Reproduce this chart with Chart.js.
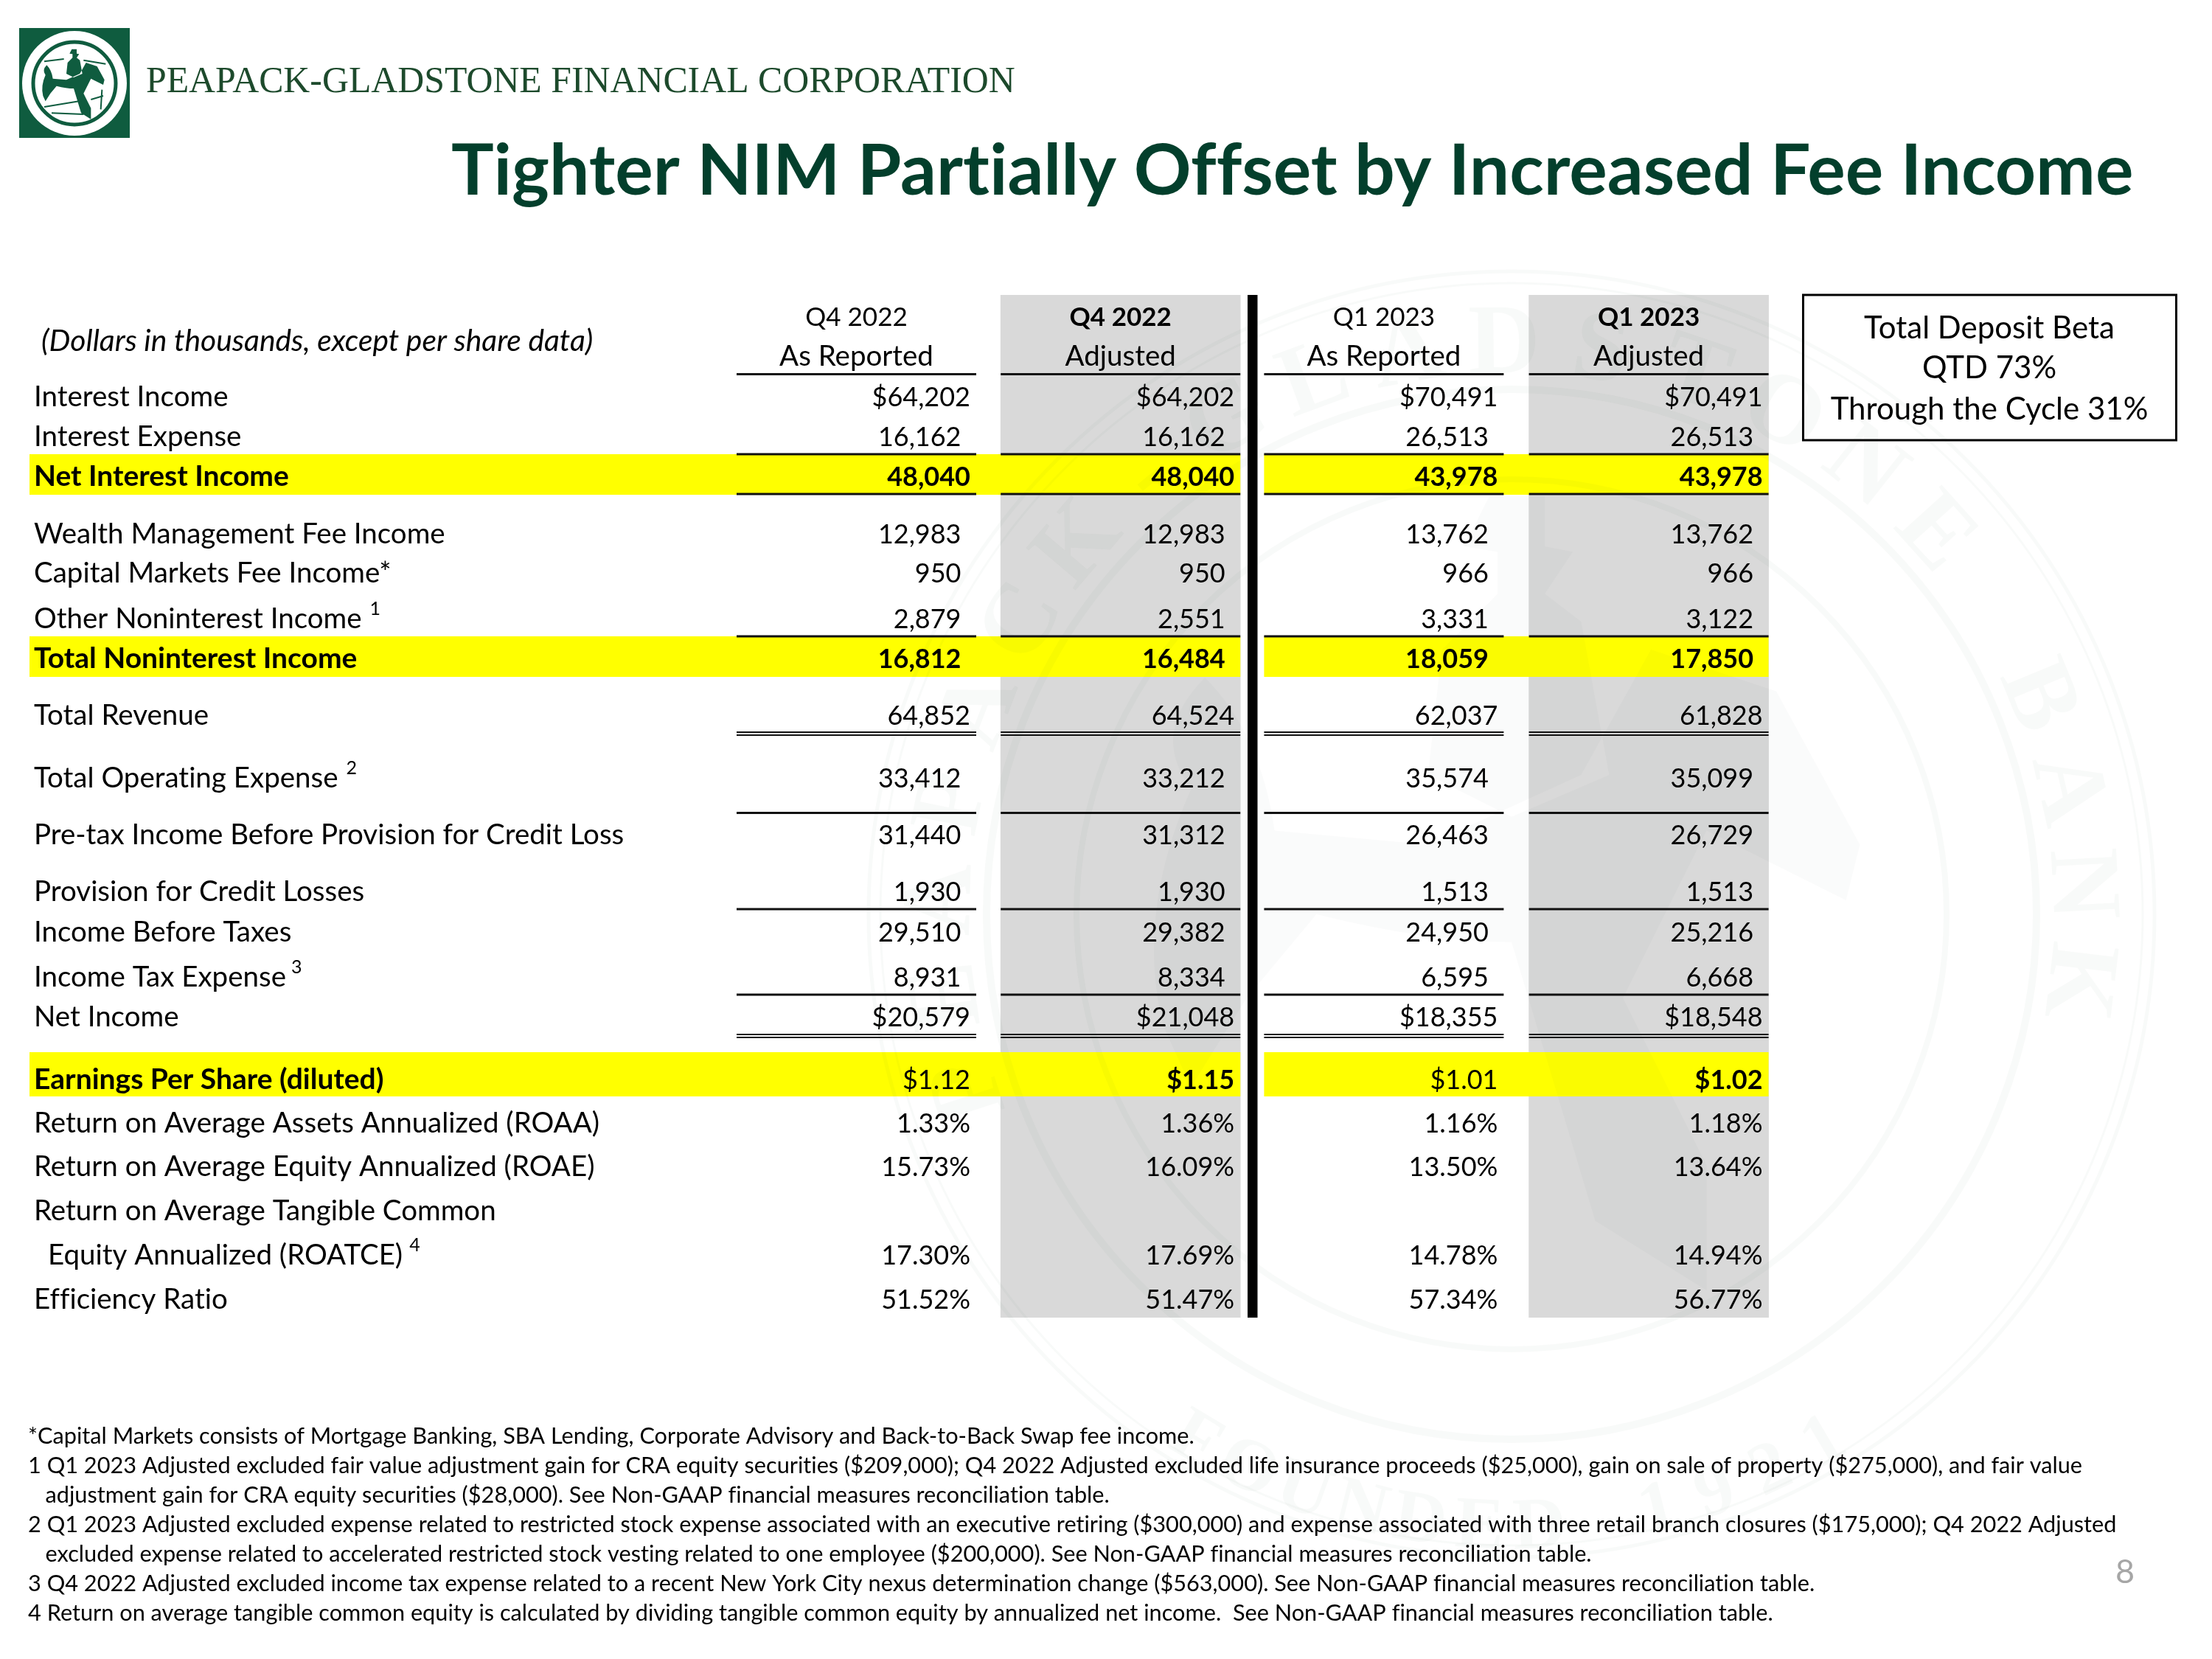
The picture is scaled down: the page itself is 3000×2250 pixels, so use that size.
<!DOCTYPE html>
<html lang="en">
<head>
  <meta charset="UTF-8" />
  <title>Tighter NIM Partially Offset by Increased Fee Income</title>
  <script src="https://cdn.jsdelivr.net/npm/chart.js"></script>
  <style>
    body { margin: 0; background: #fff; }
    canvas { display: block; }
  </style>
</head>
<body>
  <canvas id="slide" width="3000" height="2250"></canvas>

  <script>
    const columns = ['Q4 2022', 'Q4 2022', 'Q1 2023', 'Q1 2023'];
    const columnSubs = ['As Reported', 'Adjusted', 'As Reported', 'Adjusted'];

    const rowLabels = [
      'Interest Income', 'Interest Expense', 'Net Interest Income',
      'Wealth Management Fee Income', 'Capital Markets Fee Income*', 'Other Noninterest Income',
      'Total Noninterest Income', 'Total Revenue', 'Total Operating Expense',
      'Pre-tax Income Before Provision for Credit Loss', 'Provision for Credit Losses',
      'Income Before Taxes', 'Income Tax Expense', 'Net Income', 'Earnings Per Share (diluted)',
      'Return on Average Assets Annualized (ROAA)', 'Return on Average Equity Annualized (ROAE)',
      'Return on Average Tangible Common', 'Equity Annualized (ROATCE)', 'Efficiency Ratio'
    ];

    const q4Reported = ['$64,202', '16,162', '48,040', '12,983', '950', '2,879', '16,812', '64,852', '33,412', '31,440',
      '1,930', '29,510', '8,931', '$20,579', '$1.12', '1.33%', '15.73%', '', '17.30%', '51.52%'];
    const q4Adjusted = ['$64,202', '16,162', '48,040', '12,983', '950', '2,551', '16,484', '64,524', '33,212', '31,312',
      '1,930', '29,382', '8,334', '$21,048', '$1.15', '1.36%', '16.09%', '', '17.69%', '51.47%'];
    const q1Reported = ['$70,491', '26,513', '43,978', '13,762', '966', '3,331', '18,059', '62,037', '35,574', '26,463',
      '1,513', '24,950', '6,595', '$18,355', '$1.01', '1.16%', '13.50%', '', '14.78%', '57.34%'];
    const q1Adjusted = ['$70,491', '26,513', '43,978', '13,762', '966', '3,122', '17,850', '61,828', '35,099', '26,729',
      '1,513', '25,216', '6,668', '$18,548', '$1.02', '1.18%', '13.64%', '', '14.94%', '56.77%'];

    const footnotes = [
      '*Capital Markets consists of Mortgage Banking, SBA Lending, Corporate Advisory and Back-to-Back Swap fee income.',
      '1 Q1 2023 Adjusted excluded fair value adjustment gain for CRA equity securities ($209,000); Q4 2022 Adjusted excluded life insurance proceeds ($25,000), gain on sale of property ($275,000), and fair value',
      '   adjustment gain for CRA equity securities ($28,000). See Non-GAAP financial measures reconciliation table.',
      '2 Q1 2023 Adjusted excluded expense related to restricted stock expense associated with an executive retiring ($300,000) and expense associated with three retail branch closures ($175,000); Q4 2022 Adjusted',
      '   excluded expense related to accelerated restricted stock vesting related to one employee ($200,000). See Non-GAAP financial measures reconciliation table.',
      '3 Q4 2022 Adjusted excluded income tax expense related to a recent New York City nexus determination change ($563,000). See Non-GAAP financial measures reconciliation table.',
      '4 Return on average tangible common equity is calculated by dividing tangible common equity by annualized net income.  See Non-GAAP financial measures reconciliation table.'
    ];
    const betaBox = ['Total Deposit Beta', 'QTD 73%', 'Through the Cycle 31%'];

    // layout, in y-scale units (px below the top of the table)
    const tableHeight = 1387;
    const rowBaselines = [151, 205, 259, 337, 390, 451.5, 506, 583, 668, 745, 822, 876.5, 938, 992, 1076.5, 1136, 1195, 1255, 1315, 1375];
    const headerBaselines = [42, 96];
    const singleRules = [107.5, 216, 270, 463, 702.5, 833, 949];
    const doubleRules = [593.5, 1003.5];
    const yellowBands = [[216, 271], [463, 518], [1027, 1087]];
    const boldRows = [2, 6];
    const indentedRows = [1, 3, 4, 5, 6, 8, 9, 10, 11, 12];
    const superscripts = { 5: ['1', 11], 8: ['2', 11], 12: ['3', 7], 18: ['4', 9] };

    const GREEN = '#033f2c';
    const LOGO_GREEN = '#0f5c3f';
    const colWidth = 325;
    const colNudge = [0, 0, -1, 0];
    const valueColumns = [q4Reported, q4Adjusted, q1Reported, q1Adjusted];

    function put(ctx, str, x, y, font, align, color) {
      ctx.font = font;
      ctx.textAlign = align || 'left';
      ctx.textBaseline = 'alphabetic';
      ctx.fillStyle = color || '#000';
      ctx.fillText(str, x, y);
    }

    function horsePath() {
      const p = new Path2D();
      p.addPath(new Path2D('M190 205 Q170 225 185 245 Q165 290 175 330 L185 352 L205 320 L230 290 Q270 300 300 300 L330 400 L370 425 L370 380 L340 320 L370 260 L420 285 L425 265 L395 210 L350 195 L325 240 L270 265 L215 260 Q210 225 190 205 Z'));
      p.addPath(new Path2D('M292 140 L312 140 L312 158 L322 160 L312 175 L325 185 L335 240 L300 255 L270 240 L275 195 L295 175 L295 160 L283 158 Z'));
      return p;
    }

    function drawLogo(ctx) {
      ctx.fillStyle = LOGO_GREEN;
      ctx.fillRect(26, 38, 150, 149);
      ctx.fillStyle = '#fff';
      ctx.beginPath(); ctx.arc(101, 113, 71, 0, Math.PI * 2); ctx.fill();
      ctx.strokeStyle = LOGO_GREEN;
      ctx.lineWidth = 5;
      ctx.beginPath(); ctx.arc(101, 113, 56, 0, Math.PI * 2); ctx.stroke();
      ctx.save();
      ctx.translate(0, 20);
      ctx.scale(1 / 3, 1 / 3);
      ctx.fillStyle = LOGO_GREEN;
      ctx.fill(horsePath());
      ctx.lineWidth = 6;
      ctx.beginPath();
      ctx.moveTo(180, 375); ctx.lineTo(330, 350); ctx.moveTo(210, 400); ctx.lineTo(340, 405);
      ctx.moveTo(370, 345); ctx.lineTo(420, 330); ctx.moveTo(415, 305); ctx.lineTo(410, 385);
      ctx.moveTo(180, 190); ctx.lineTo(260, 180); ctx.moveTo(340, 185); ctx.lineTo(430, 200);
      ctx.stroke();
      ctx.restore();
      put(ctx, 'PEAPACK-GLADSTONE FINANCIAL CORPORATION', 198, 125, '49.8px "Liberation Serif"', 'left', '#1d4a2c');
    }

    // faint seal behind the table
    function drawSeal(ctx) {
      const cx = 2050, cy = 1240;
      const tint = 'rgba(10,70,50,0.028)';
      ctx.save();
      ctx.strokeStyle = tint;
      [[872, 5], [856, 3], [712, 10], [590, 8]].forEach(([r, w]) => {
        ctx.lineWidth = w;
        ctx.beginPath(); ctx.arc(cx, cy, r, 0, Math.PI * 2); ctx.stroke();
      });
      ctx.fillStyle = tint;
      ctx.font = 'bold 135px "Liberation Serif"';
      ctx.textAlign = 'center';
      [...'PEAPACK-GLADSTONE BANK'].forEach((ch, i) => {
        const a = (-108 + i * 9.75) * Math.PI / 180;
        ctx.save();
        ctx.translate(cx + Math.sin(a) * 735, cy - Math.cos(a) * 735);
        ctx.rotate(a);
        ctx.fillText(ch, 0, 0);
        ctx.restore();
      });
      ctx.font = 'bold 100px "Liberation Serif"';
      [...'FOUNDED 1921'].forEach((ch, i) => {
        const a = (-31 + i * 5.6) * Math.PI / 180;
        ctx.save();
        ctx.translate(cx + Math.sin(a) * 860, cy + Math.cos(a) * 860);
        ctx.rotate(-a);
        ctx.fillText(ch, 0, 0);
        ctx.restore();
      });
      const k = 3.78;
      ctx.fillStyle = 'rgba(10,70,50,0.018)';
      ctx.translate(cx - 300 * k, cy - 290 * k);
      ctx.scale(k, k);
      ctx.fill(horsePath());
      ctx.restore();
    }

    const slidePlugin = {
      id: 'slide',
      afterDatasetsDraw(chart) {
        const { ctx } = chart;
        const xS = chart.scales.x, yS = chart.scales.y;
        const colX = i => xS.getPixelForValue(i) + colNudge[i];
        const y = v => yS.getPixelForValue(v);
        ctx.textRendering = 'optimizeSpeed'; // no ti/ffi ligatures, as in the slide

        // yellow highlight rows
        ctx.fillStyle = '#ffff00';
        yellowBands.forEach(([a, b]) => {
          const right = colX(1) + colWidth / 2;
          ctx.fillRect(40, y(a), right - 40, y(b) - y(a));
          const left = colX(2) - colWidth / 2;
          ctx.fillRect(left, y(a), colX(3) + colWidth / 2 - left, y(b) - y(a));
        });

        drawSeal(ctx);

        // thick black divider
        ctx.fillStyle = '#000';
        ctx.fillRect(1692, y(0), 13.5, y(tableHeight) - y(0));

        // column rules
        ctx.fillStyle = '#111';
        columns.forEach((c, i) => {
          const left = colX(i) - colWidth / 2;
          singleRules.forEach(r => ctx.fillRect(left, y(r) - 1.5, colWidth, 3));
          doubleRules.forEach(r => {
            ctx.fillRect(left, y(r) - 1.5, colWidth, 2);
            ctx.fillRect(left, y(r) + 2.5, colWidth, 2);
          });
        });

        // column headers
        columns.forEach((c, i) => {
          put(ctx, c, colX(i), y(headerBaselines[0]), (i % 2 ? 'bold ' : '') + '35px Lato', 'center');
          put(ctx, columnSubs[i], colX(i), y(headerBaselines[1]), '38.5px Lato', 'center');
        });
        put(ctx, '(Dollars in thousands, except per share data)', 56, 476, 'italic 40.8px Lato');

        // row labels and superscripts
        rowLabels.forEach((label, r) => {
          const bold = boldRows.includes(r) || r === 14;
          const font = bold ? 'bold 39px Lato' : '38.5px Lato';
          const x = r === 18 ? 65 : 46;
          put(ctx, label, x, y(rowBaselines[r]), font);
          if (superscripts[r]) {
            const [mark, gap] = superscripts[r];
            put(ctx, mark, x + ctx.measureText(label).width + gap, y(rowBaselines[r]) - 18, '25px Lato');
          }
        });

        // values
        valueColumns.forEach((vals, c) => {
          vals.forEach((v, r) => {
            const bold = boldRows.includes(r) || (r === 14 && c % 2 === 1);
            const right = colX(c) + 154.5 - (indentedRows.includes(r) ? 12.5 : 0);
            put(ctx, v, right, y(rowBaselines[r]), (bold ? 'bold ' : '') + '36px Lato', 'right');
          });
        });

        // title, logo, side box, footnotes, page number
        drawLogo(ctx);
        put(ctx, 'Tighter NIM Partially Offset by Increased Fee Income', 612, 264, 'bold 96.5px Lato', 'left', GREEN);

        ctx.strokeStyle = '#000';
        ctx.lineWidth = 3;
        ctx.strokeRect(2445.5, 400, 506, 197);
        [459, 512.5, 568.5].forEach((by, i) => put(ctx, betaBox[i], 2698, by, '42px Lato', 'center'));

        footnotes.forEach((line, i) => put(ctx, line, 38, 1958 + i * 40, '30.7px Lato'));
        put(ctx, '8', 2882, 2147, '45px Lato', 'center', '#a6a6a6');
      }
    };

    new Chart(document.getElementById('slide'), {
      type: 'bar',
      data: {
        labels: columns.map((c, i) => c + ' ' + columnSubs[i]),
        datasets: [{
          label: 'Adjusted columns',
          data: [null, [0, tableHeight], null, [0, tableHeight]],
          backgroundColor: '#d9d9d9',
          barThickness: colWidth
        }]
      },
      options: {
        responsive: false,
        animation: false,
        layout: { padding: { left: 982.4, right: 584.8, top: 400, bottom: 463 } },
        plugins: { legend: { display: false }, tooltip: { enabled: false } },
        scales: {
          x: { display: false },
          y: { display: false, reverse: true, min: 0, max: tableHeight }
        }
      },
      plugins: [slidePlugin]
    });
  </script>
</body>
</html>
